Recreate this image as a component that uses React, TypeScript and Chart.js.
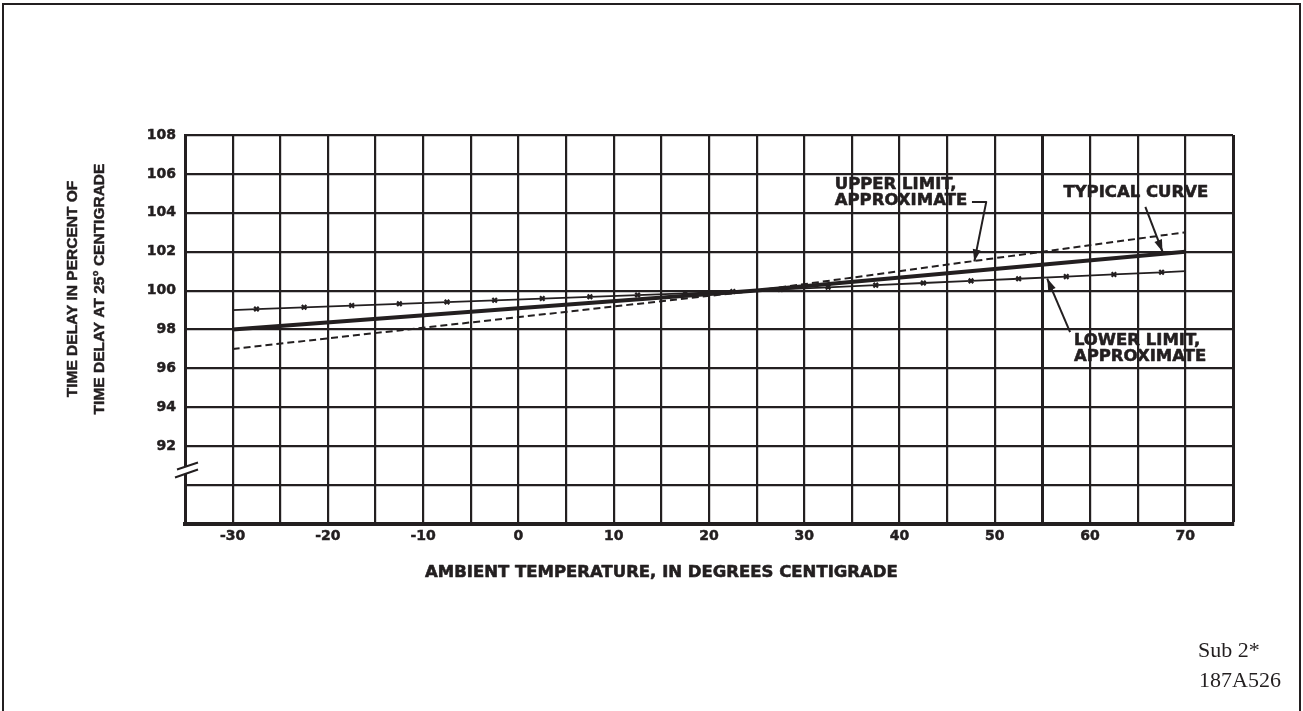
import React, { useEffect, useRef } from "react";
import { Chart, registerables } from "chart.js";

Chart.register(...registerables);

const INK = "#231f20";

// Data
const typicalTemps = [-30, 25, 70];
const typicalDelay = [98, 100, 102];

const upperTemps = [-30, 25, 70];
const upperDelay = [97, 100, 103];

const lowerTemps = [
  -30, -27.5, -22.5, -17.5, -12.5, -7.5, -2.5, 2.5, 7.5, 12.5, 17.5, 22.5,
  27.5, 32.5, 37.5, 42.5, 47.5, 52.5, 57.5, 62.5, 67.5, 70,
];
const lowerDelay = [
  99, 99.05, 99.14, 99.23, 99.32, 99.41, 99.5, 99.59, 99.68, 99.77, 99.86,
  99.95, 100.06, 100.17, 100.28, 100.39, 100.5, 100.61, 100.72, 100.83, 100.94,
  101,
];

const xTickLabels = ["-30", "-20", "-10", "0", "10", "20", "30", "40", "50", "60", "70"];
const yTickLabels = ["92", "94", "96", "98", "100", "102", "104", "106", "108"];

const xTitle = "AMBIENT TEMPERATURE, IN DEGREES CENTIGRADE";
const yTitleLines = ["TIME DELAY IN PERCENT OF", "TIME DELAY AT 25\u00B0 CENTIGRADE"];
const footLines = ["Sub 2*", "187A526"];

const annotationPlugin = {
  id: "annotations",
  afterDraw(chart: any) {
    const ctx: CanvasRenderingContext2D = chart.ctx;
    const xs = chart.scales.x;
    const ys = chart.scales.y;
    const X = (v: number) => xs.getPixelForValue(v);
    const Y = (v: number) => ys.getPixelForValue(v);
    const L = chart.chartArea.left;

    ctx.save();
    ctx.fillStyle = INK;
    ctx.strokeStyle = INK;
    ctx.lineCap = "butt";
    ctx.lineJoin = "round";

    const boldText = (s: string, x: number, y: number, w = 0.6) => {
      ctx.lineWidth = w;
      ctx.fillText(s, x, y);
      ctx.strokeText(s, x, y);
    };

    const arrowHead = (x1: number, y1: number, x2: number, y2: number) => {
      const a = Math.atan2(y2 - y1, x2 - x1);
      const len = 12;
      const hw = 4;
      const bx = x2 - len * Math.cos(a);
      const by = y2 - len * Math.sin(a);
      ctx.beginPath();
      ctx.moveTo(x2, y2);
      ctx.lineTo(bx + hw * Math.sin(a), by - hw * Math.cos(a));
      ctx.lineTo(bx - hw * Math.sin(a), by + hw * Math.cos(a));
      ctx.closePath();
      ctx.fill();
    };
    const arrow = (pts: number[][]) => {
      ctx.lineWidth = 2;
      ctx.beginPath();
      ctx.moveTo(pts[0][0], pts[0][1]);
      for (let i = 1; i < pts.length; i++) ctx.lineTo(pts[i][0], pts[i][1]);
      ctx.stroke();
      const n = pts.length;
      arrowHead(pts[n - 2][0], pts[n - 2][1], pts[n - 1][0], pts[n - 1][1]);
    };

    // Annotation labels
    ctx.font = 'bold 16.5px "DejaVu Sans"';
    ctx.textBaseline = "middle";
    ctx.textAlign = "left";
    boldText("UPPER LIMIT,", X(33.2), Y(105.43));
    boldText("APPROXIMATE", X(33.2), Y(104.6));
    boldText("TYPICAL CURVE", X(57.2), Y(105.02));
    boldText("LOWER LIMIT,", X(58.3), Y(97.41));
    boldText("APPROXIMATE", X(58.3), Y(96.59));

    // Arrows
    arrow([
      [X(47.6), Y(104.56)],
      [X(49.1), Y(104.56)],
      [X(47.85), Y(101.5)],
    ]);
    arrow([
      [X(65.8), Y(104.3)],
      [X(67.6), Y(102.0)],
    ]);
    arrow([
      [X(57.9), Y(97.87)],
      [X(55.5), Y(100.62)],
    ]);

    // Axis break symbol
    const y0 = Y(90.8);
    ctx.fillStyle = "#ffffff";
    ctx.beginPath();
    ctx.moveTo(L - 8, y0);
    ctx.lineTo(L + 13, y0 - 7);
    ctx.lineTo(L + 13, y0);
    ctx.lineTo(L - 10, y0 + 8);
    ctx.closePath();
    ctx.fill();
    ctx.fillStyle = INK;
    ctx.lineWidth = 2;
    ctx.beginPath();
    ctx.moveTo(L - 8, y0);
    ctx.lineTo(L + 13, y0 - 7);
    ctx.moveTo(L - 10, y0 + 8);
    ctx.lineTo(L + 13, y0);
    ctx.stroke();

    // X axis title
    ctx.font = 'bold 16.5px "DejaVu Sans"';
    ctx.textAlign = "left";
    ctx.textBaseline = "middle";
    boldText(xTitle, 425, 573);

    // Y axis title (two rotated lines)
    ctx.font = 'bold 15.5px "Liberation Sans"';
    ctx.textAlign = "center";
    [73, 100].forEach((cx, i) => {
      ctx.save();
      ctx.translate(cx, 289);
      ctx.rotate(-Math.PI / 2);
      boldText(yTitleLines[i], 0, 0, 0.5);
      ctx.restore();
    });

    // Footer reference text
    ctx.font = '22px "Liberation Serif"';
    ctx.textAlign = "left";
    ctx.textBaseline = "alphabetic";
    ctx.fillText(footLines[0], 1198, 657);
    ctx.fillText(footLines[1], 1199, 687);

    ctx.restore();
  },
};

export default function App() {
  const ref = useRef<HTMLCanvasElement | null>(null);

  useEffect(() => {
    if (!ref.current) return;
    const tickFont = { family: "DejaVu Sans", weight: "bold" as const, size: 14 };
    const chart = new Chart(ref.current, {
      type: "scatter",
      data: {
        datasets: [
          {
            label: "Upper limit, approximate",
            data: upperTemps.map((t, i) => ({ x: t, y: upperDelay[i] })),
            showLine: true,
            borderColor: INK,
            borderWidth: 2,
            borderDash: [7, 4],
            pointRadius: 0,
          },
          {
            label: "Lower limit, approximate",
            data: lowerTemps.map((t, i) => ({ x: t, y: lowerDelay[i] })),
            showLine: true,
            borderColor: INK,
            backgroundColor: INK,
            borderWidth: 1.8,
            pointStyle: "crossRot",
            pointRadius: lowerTemps.map((_, i) => (i === 0 || i === lowerTemps.length - 1 ? 0 : 3.2)),
            pointBorderWidth: 2.2,
            pointBorderColor: INK,
          },
          {
            label: "Typical curve",
            data: typicalTemps.map((t, i) => ({ x: t, y: typicalDelay[i] })),
            showLine: true,
            borderColor: INK,
            borderWidth: 4,
            pointRadius: 0,
          },
        ],
      },
      options: {
        responsive: false,
        animation: false,
        layout: { padding: { left: 0, top: 135, right: 70, bottom: 0 } },
        plugins: {
          legend: { display: false },
          tooltip: { enabled: false },
          title: { display: false },
        },
        scales: {
          x: {
            type: "linear",
            min: -35,
            max: 75,
            ticks: {
              stepSize: 5,
              autoSkip: false,
              maxRotation: 0,
              padding: 4,
              color: INK,
              font: tickFont,
              textStrokeColor: INK,
              textStrokeWidth: 0.5,
              callback: (v: any) => (xTickLabels.includes(String(v)) ? String(v) : ""),
            },
            grid: {
              color: INK,
              drawTicks: false,
              lineWidth: (c: any) => {
                const v = c.tick ? c.tick.value : 0;
                if (v === 55 || v === 75) return 3;
                return 2.2;
              },
            },
            border: { display: true, color: INK, width: 4 },
            afterFit: (s: any) => {
              s.height = 187;
            },
          },
          y: {
            type: "linear",
            min: 88,
            max: 108,
            ticks: {
              stepSize: 2,
              autoSkip: false,
              padding: 9,
              color: INK,
              font: tickFont,
              textStrokeColor: INK,
              textStrokeWidth: 0.5,
              callback: (v: any) => (yTickLabels.includes(String(v)) ? String(v) : ""),
            },
            grid: {
              color: INK,
              drawTicks: false,
              lineWidth: 2.2,
            },
            border: { display: true, color: INK, width: 3 },
            afterFit: (s: any) => {
              s.width = 185;
            },
          },
        },
      },
      plugins: [annotationPlugin],
    });
    return () => chart.destroy();
  }, []);

  return (
    <div style={{ position: "absolute", left: 0, top: 0, width: 1303, height: 711, overflow: "hidden", background: "#fff" }}>
      <div
        style={{
          position: "absolute",
          left: 2,
          top: 3,
          width: 1299,
          height: 760,
          border: `2px solid ${INK}`,
          boxSizing: "border-box",
        }}
      />
      <canvas ref={ref} width={1303} height={711} style={{ position: "absolute", left: 0, top: 0, display: "block" }} />
    </div>
  );
}
